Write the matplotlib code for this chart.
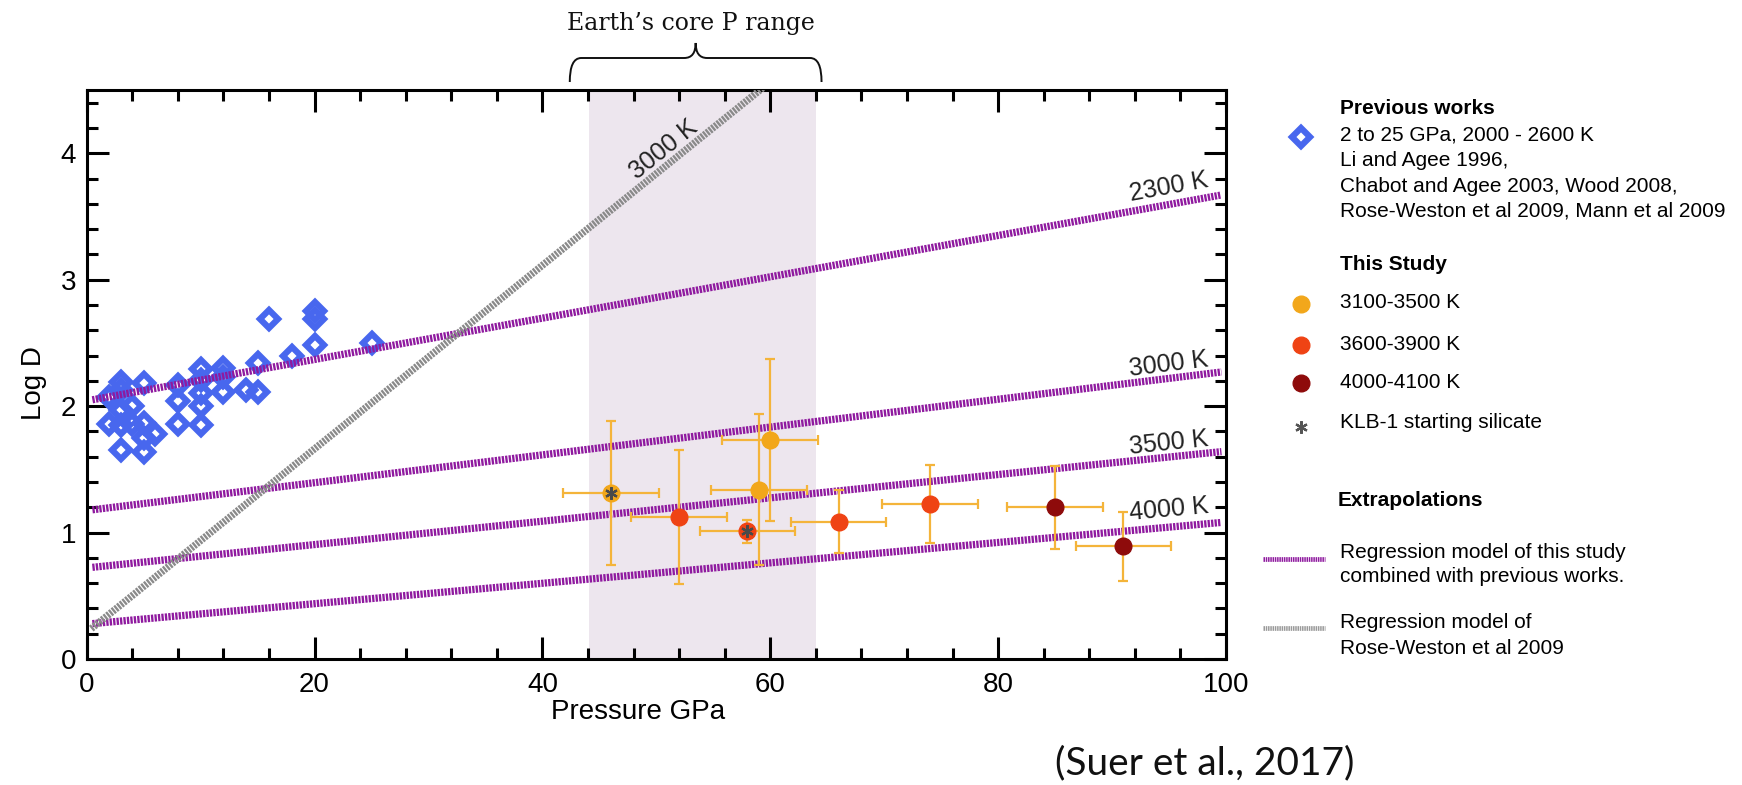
import numpy as np
import matplotlib
matplotlib.use("Agg")
import matplotlib.pyplot as plt
import matplotlib.transforms as mtransforms
from matplotlib.path import Path
from matplotlib.patches import PathPatch
from matplotlib.ticker import MultipleLocator

plt.rcParams['font.family'] = ['Liberation Sans', 'DejaVu Sans']

W, H = 1742, 785

# ---- previous works: 2-25 GPa, 2000-2600 K ----
prev_p = [2, 3, 3, 2, 3, 3, 3, 4, 4, 5, 5, 5, 5, 6, 8, 8, 8,
          10, 10, 10, 10, 10, 12, 12, 12, 14, 15, 15, 16, 18, 20, 20, 20, 25]
prev_logd = [2.07, 2.19, 2.13, 1.86, 1.97, 1.85, 1.65, 2.00, 1.86, 2.18, 1.87, 1.75, 1.64,
             1.78, 2.17, 2.04, 1.86, 2.29, 2.21, 2.10, 2.00, 1.85, 2.30, 2.23, 2.11,
             2.13, 2.34, 2.11, 2.69, 2.40, 2.75, 2.69, 2.48, 2.50]

# ---- this study ----
study_p = [46, 59, 60, 52, 58, 66, 74, 85, 91]
study_logd = [1.315, 1.34, 1.73, 1.125, 1.01, 1.085, 1.225, 1.20, 0.89]
study_perr = [4.2, 4.2, 4.2, 4.2, 4.2, 4.2, 4.2, 4.2, 4.2]
study_derr = [0.57, 0.60, 0.64, 0.53, 0.09, 0.25, 0.31, 0.33, 0.27]
study_group = [0, 0, 0, 1, 1, 1, 1, 2, 2]
study_klb1 = [True, False, False, False, True, False, False, False, False]

group_names = ['3100-3500 K', '3600-3900 K', '4000-4100 K']
group_colors = ['#f2a71b', '#ef4314', '#8e0b0b']

# ---- regression lines (value at both ends of reg_p) ----
reg_p = [0.5, 99.6]
reg_temps = ['2300 K', '3000 K', '3500 K', '4000 K']
reg_start = [2.05, 1.18, 0.725, 0.28]
reg_end = [3.67, 2.27, 1.64, 1.08]
reg_label_p = 95.0
reg_label_logd = [3.73, 2.33, 1.71, 1.18]

# Rose-Weston et al 2009 (3000 K)
rw_p = [0.4, 62.0]
rw_logd = [0.24, 4.71]
rw_label = (50.6, 4.03)

core_p = (44.1, 64.0)
brace_p = (42.4, 64.5)

purple = '#8f1a9f'
grey = '#8a8a8a'
blue = '#4867ee'
errc = '#f4b43a'

fig = plt.figure(figsize=(W / 100, H / 100), dpi=100)
ax = fig.add_axes([86.7 / W, 1 - 659 / H, (1226 - 86.7) / W, (659 - 90) / H])
ax.set_xlim(0, 100)
ax.set_ylim(0, 4.5)

ax.axvspan(*core_p, color='#ede6ee', lw=0, zorder=0)

dash = (0, (0.32, 0.16))
for s, e in zip(reg_start, reg_end):
    ax.plot(reg_p, [s, e], color=purple, lw=5.2, ls=dash, dash_capstyle='butt', zorder=3)
ax.plot(rw_p, rw_logd, color=grey, lw=5.2, ls=dash, dash_capstyle='butt', zorder=3.5)

ax.plot(prev_p, prev_logd, 'D', ms=9.5, mfc='none', mec=blue, mew=4.5, zorder=2)

p = np.array(study_p)
d = np.array(study_logd)
g = np.array(study_group)
ax.errorbar(p, d, xerr=study_perr, yerr=study_derr, fmt='none', ecolor=errc,
            elinewidth=1.6, capsize=3.5, capthick=1.6, zorder=4)
for i, c in enumerate(group_colors):
    ax.plot(p[g == i], d[g == i], 'o', color=c, ms=12, ls='none', zorder=5)
k = np.array(study_klb1)
ax.plot(p[k], d[k], marker=(6, 2, 0), color='#4a4a4a', ms=9, mew=1.6, ls='none', zorder=6)


def screen_angle(x0, y0, x1, y1):
    (a, b), (c2, d2) = ax.transData.transform([(x0, y0), (x1, y1)])
    return np.degrees(np.arctan2(d2 - b, c2 - a))


for t, s, e, yl in zip(reg_temps, reg_start, reg_end, reg_label_logd):
    ang = screen_angle(reg_p[0], s, reg_p[1], e)
    ax.text(reg_label_p, yl, t, fontsize=18, color='#222222', rotation=ang,
            rotation_mode='anchor', ha='center', va='center', zorder=7)
ang = screen_angle(rw_p[0], rw_logd[0], rw_p[1], rw_logd[1])
ax.text(*rw_label, '3000 K', fontsize=18, color='#222222', rotation=ang,
        rotation_mode='anchor', ha='center', va='center', zorder=7)

# axes styling
for sp in ax.spines.values():
    sp.set_linewidth(2.2)
ax.xaxis.set_major_locator(MultipleLocator(20))
ax.xaxis.set_minor_locator(MultipleLocator(4))
ax.yaxis.set_major_locator(MultipleLocator(1))
ax.yaxis.set_minor_locator(MultipleLocator(0.2))
ax.tick_params(which='both', direction='in', top=True, right=True, width=2.2, labelsize=20)
ax.tick_params(which='major', length=16)
ax.tick_params(which='minor', length=8)
ax.tick_params(axis='x', pad=9)
ax.tick_params(axis='y', pad=7.5)
ax.set_xlabel('Pressure GPa', fontsize=20)
ax.set_ylabel('Log D', fontsize=20)
ax.xaxis.set_label_coords(0.484, -0.071)
ax.yaxis.set_label_coords(-0.035, 0.485)

# brace above the core pressure range
trans = mtransforms.blended_transform_factory(ax.transData, fig.transFigure)
xl, xr = brace_p
xm = (xl + xr) / 2
r = 1.0
y_end, y_bar, y_tip = 1 - 82 / H, 1 - 58 / H, 1 - 43 / H
verts = [(xl, y_end), (xl, y_bar), (xl + r, y_bar), (xm - r, y_bar), (xm, y_bar), (xm, y_tip),
         (xm, y_bar), (xm + r, y_bar), (xr - r, y_bar), (xr, y_bar), (xr, y_end)]
codes = [Path.MOVETO, Path.CURVE3, Path.CURVE3, Path.LINETO, Path.CURVE3, Path.CURVE3,
         Path.CURVE3, Path.CURVE3, Path.LINETO, Path.CURVE3, Path.CURVE3]
ax.add_patch(PathPatch(Path(verts, codes), transform=trans, fill=False, lw=1.4,
                       color='#111111', clip_on=False))
ax.text(53.0, 1 - 23.5 / H, 'Earth\u2019s core P range', transform=trans, fontsize=17,
        family='DejaVu Serif', ha='center', va='center', color='#111111')

# legend panel, laid out in figure pixels
lg = fig.add_axes([0, 0, 1, 1], zorder=-1)
lg.set_xlim(0, W)
lg.set_ylim(H, 0)
lg.axis('off')
tx = 1340
mx = 1301
fs = 15
lg.text(tx, 109, 'Previous works', fontsize=fs, fontweight='bold', va='center')
for y, s in zip([135, 160.5, 186, 211],
                ['2 to 25 GPa, 2000 - 2600 K', 'Li and Agee 1996,',
                 'Chabot and Agee 2003, Wood 2008,', 'Rose-Weston et al 2009, Mann et al 2009']):
    lg.text(tx, y, s, fontsize=fs, va='center')
lg.plot(mx, 137, 'D', ms=9.5, mfc='none', mec=blue, mew=4.5)
lg.text(tx, 264, 'This Study', fontsize=fs, fontweight='bold', va='center')
for y, name, c in zip([303, 344, 382], group_names, group_colors):
    lg.plot(mx, y + 1, 'o', color=c, ms=12)
    lg.text(tx, y, name, fontsize=fs, va='center')
lg.plot(mx, 427, marker=(6, 2, 0), color='#555555', ms=9, mew=1.6)
lg.text(tx, 422.5, 'KLB-1 starting silicate', fontsize=fs, va='center')
lg.text(tx - 2, 501, 'Extrapolations', fontsize=fs, fontweight='bold', va='center')
lg.plot([1263, 1325], [559, 559], color=purple, lw=3.4, ls=dash, dash_capstyle='butt')
lg.text(tx, 552, 'Regression model of this study', fontsize=fs, va='center')
lg.text(tx, 577, 'combined with previous works.', fontsize=fs, va='center')
lg.plot([1263, 1325], [628, 628], color='#9a9a9a', lw=3.4, ls=dash, dash_capstyle='butt')
lg.text(tx, 622.5, 'Regression model of', fontsize=fs, va='center')
lg.text(tx, 648, 'Rose-Weston et al 2009', fontsize=fs, va='center')

fig.text(1205 / W, 1 - 763 / H, '(Suer et al., 2017)', fontsize=28, family='Lato',
         ha='center', va='center', color='#111111')

fig.savefig('out.png', dpi=100)
